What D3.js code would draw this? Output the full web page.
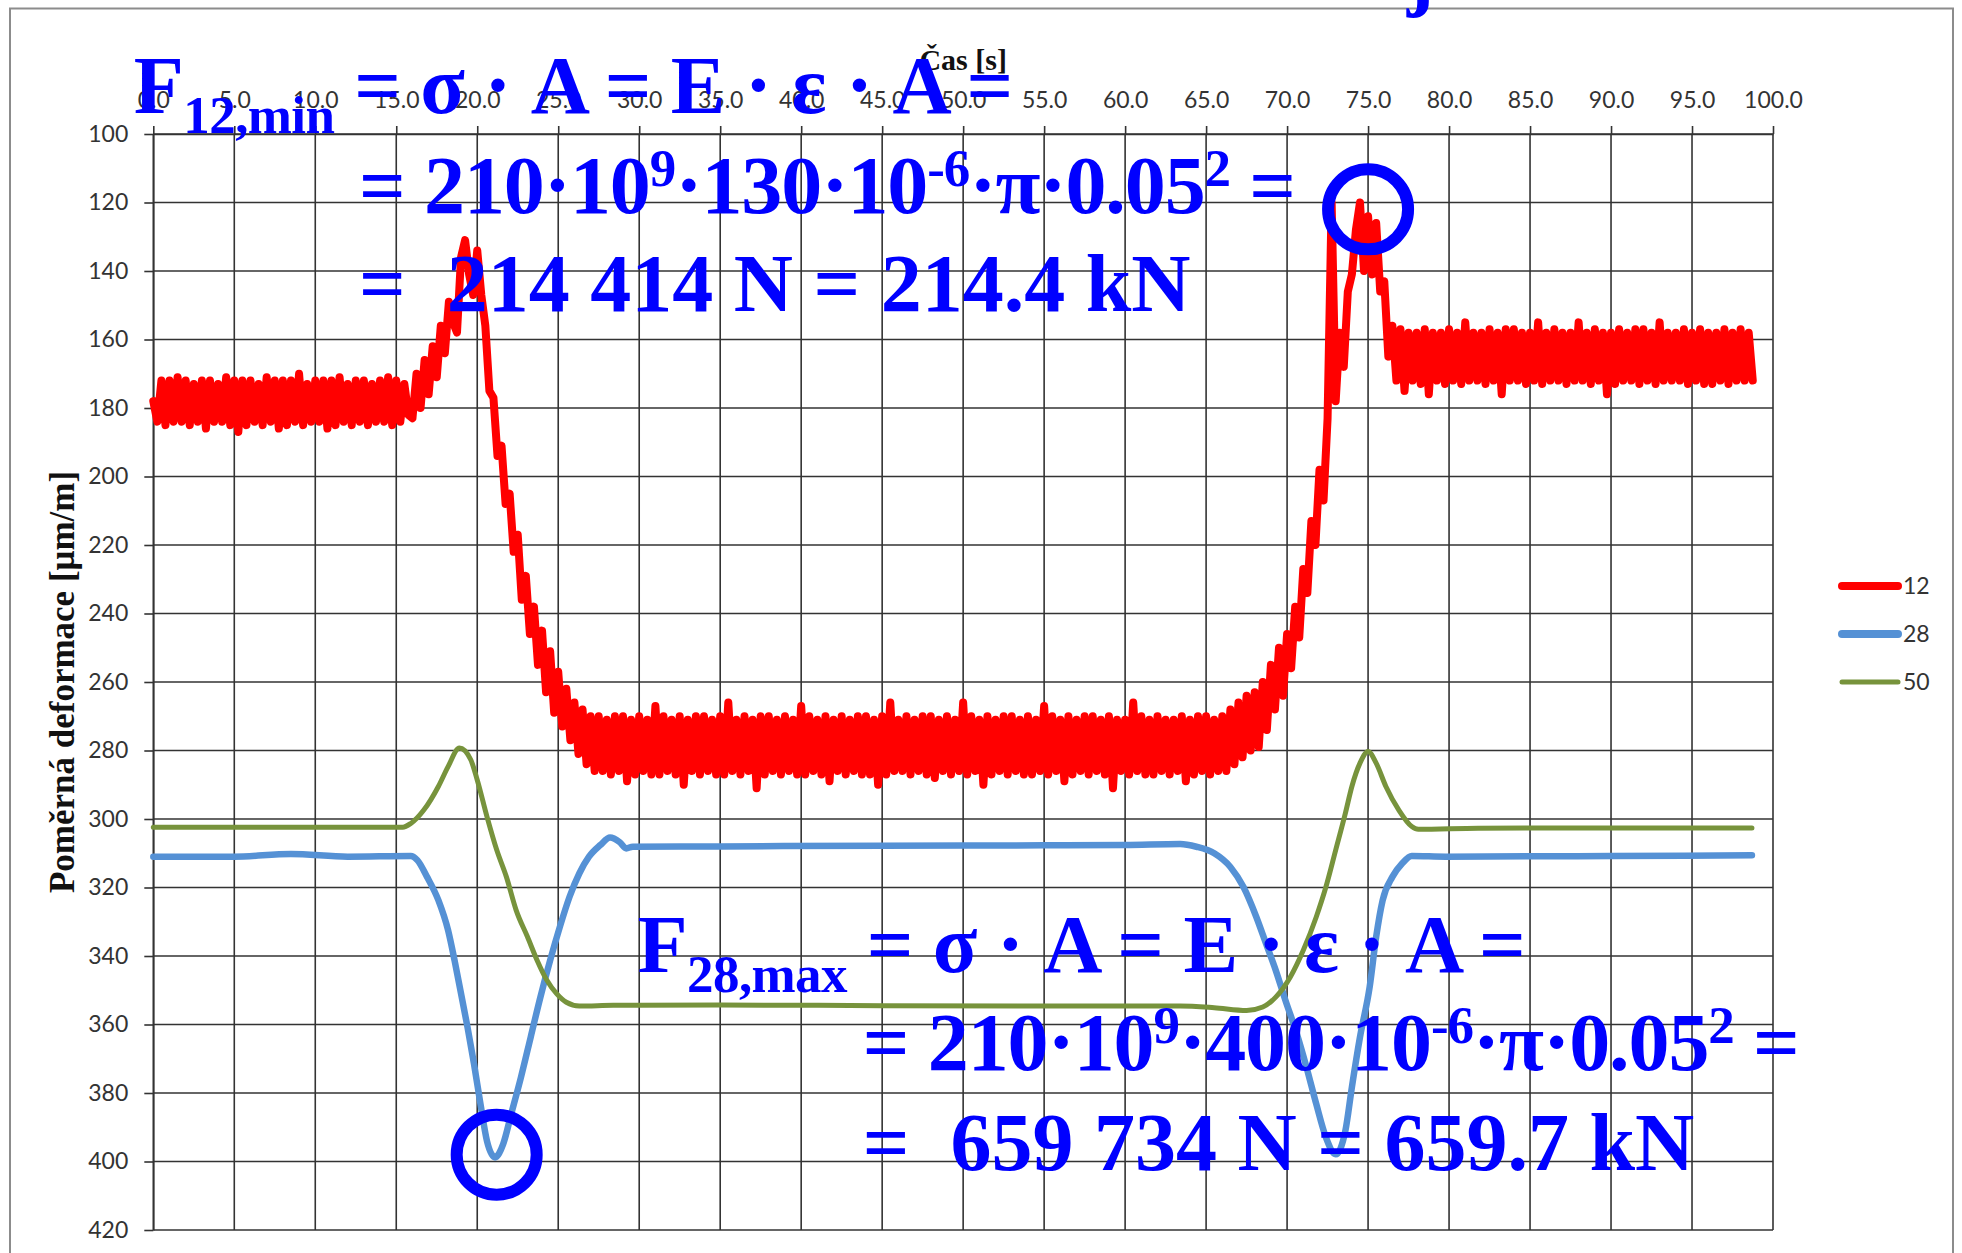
<!DOCTYPE html>
<html>
<head>
<meta charset="utf-8">
<script src="https://cdn.jsdelivr.net/npm/d3@7"></script>
<style>
  body { margin: 0; background: #fff; }
  svg { display: block; }
</style>
</head>
<body>
<script>
const W = 1962, H = 1253;

// axis ticks
const timeTicks = [0, 5, 10, 15, 20, 25, 30, 35, 40, 45, 50, 55, 60, 65, 70, 75, 80, 85, 90, 95, 100];
const strainTicks = [100, 120, 140, 160, 180, 200, 220, 240, 260, 280, 300, 320, 340, 360, 380, 400, 420];

const seriesNames = ['12', '28', '50'];

// series 12 - sampled every 0.25 s (one row = 2 s)
const redStep = 0.25;
const red12 = [
  178,184,172,185,172,184,171,184,
  172,185,173,184,172,186,172,184,
  173,184,171,185,172,187,172,185,
  172,184,173,185,171,184,172,186,
  172,185,172,184,170,185,173,184,
  172,184,172,186,172,185,171,184,
  173,185,172,184,172,185,173,184,
  172,184,171,185,172,184,173,182,
  183,170,180,166,176,162,171,156,
  164,149,155,158,136,131,141,147,
  134,147,156,175,177,194,191,208,
  205,222,217,236,229,246,238,255,
  245,263,251,269,257,273,262,277,
  266,281,268,284,270,286,270,286,
  271,287,270,286,270,289,271,287,
  270,286,271,287,267,287,270,286,
  271,287,270,290,271,286,270,287,
  270,286,271,287,270,287,266,286,
  271,287,270,286,271,291,270,287,
  270,286,271,287,270,286,271,287,
  267,287,270,286,271,287,270,289,
  271,286,270,287,271,286,270,287,
  270,287,271,290,270,287,266,286,
  271,286,270,287,271,286,270,287,
  270,288,271,286,270,287,271,286,
  266,287,270,286,271,290,270,287,
  271,286,270,287,270,286,271,287,
  270,287,271,286,267,287,270,286,
  271,289,270,287,271,286,270,287,
  270,286,271,287,270,291,271,286,
  271,287,266,286,270,287,271,287,
  270,286,271,287,271,286,270,289,
  271,287,270,286,270,287,271,286,
  270,286,268,284,266,282,264,280,
  263,279,260,274,255,268,250,264,
  246,256,238,247,227,234,213,220,
  198,207,183,120,178,158,168,146,
  141,128,120,140,124,141,126,146,
  143,165,156,172,157,175,158,172,
  158,173,157,176,158,172,158,173,
  157,172,158,173,155,172,158,172,
  158,173,157,172,158,176,157,172,
  157,172,158,173,158,172,155,173,
  158,172,157,172,158,173,158,172,
  155,172,158,173,157,172,158,176,
  158,173,157,172,158,172,157,173,
  157,172,158,173,155,172,158,172,
  158,172,157,173,158,172,157,173,
  158,173,158,172,157,173,158,172,
  157,172,158,172
];

// series 28
const blueT = [0, 5, 8.5, 12, 15.9, 16.3, 16.9, 17.6, 18.2, 18.6, 19.0, 19.4, 19.8, 20.2, 20.6, 21.1, 21.6, 22.1, 22.7, 23.3, 23.9, 24.5, 25.1, 25.7, 26.3, 26.9, 27.6, 28.2, 28.8, 29.2, 29.6, 35, 45, 55, 60, 63.4, 64.4, 65.5, 66.5, 67.3, 68.1, 68.7, 69.3, 69.9, 70.6, 71.2, 71.8, 72.4, 73.0, 73.6, 74.0, 74.5, 75.1, 75.5, 75.9, 76.5, 77.1, 77.7, 79.8, 90, 98.7];
const blue28 = [311, 311, 310.2, 311, 310.8, 312, 316.9, 323.7, 332.5, 341.3, 351, 360.8, 371.5, 383.2, 394, 398.8, 394.9, 386.1, 375.4, 363.7, 352, 341.3, 331.5, 322.7, 315.9, 311, 307.6, 305.4, 306.8, 308.6, 308.1, 308, 307.8, 307.7, 307.6, 307.3, 308.1, 310, 314, 319.8, 328.6, 336.4, 344.2, 353, 362.7, 372.5, 383.2, 393, 397.9, 391, 378.3, 363.7, 349, 334.4, 323.7, 316.9, 313, 310.8, 311, 310.8, 310.6];

// series 50
const greenT = [0, 10, 15.4, 15.9, 16.7, 17.6, 18.2, 18.9, 19.6, 20.0, 20.6, 21.2, 21.8, 22.4, 23.1, 23.7, 24.3, 24.9, 25.5, 26.3, 28.4, 35, 45, 55, 63.4, 65.5, 67.5, 68.5, 69.3, 70.2, 71.0, 71.8, 72.4, 73.0, 73.6, 74.0, 74.5, 75.0, 75.5, 76.1, 76.9, 77.7, 78.1, 81.8, 90, 98.7];
const green50 = [302.4, 302.4, 302.4, 301.3, 297.4, 290.5, 284.7, 279.3, 282.7, 288.6, 299.3, 309, 316.9, 326.6, 334.4, 341.3, 347.1, 351, 353.5, 354.6, 354.4, 354.3, 354.5, 354.6, 354.6, 355.1, 355.9, 354.9, 352, 346.1, 338.3, 328.6, 319.8, 309.1, 298.3, 290.5, 283.7, 280.3, 283.7, 290.5, 297.4, 302.2, 303, 302.7, 302.6, 302.6];

// hand-drawn annotations (anchored in data units)
const noteLines = [
  { t: -1.2, v: 94,    ls: -0.6, parts: [['F', ''], ['12,min', 'sub'], [' = σ · A = E · ε · A =', '']] },
  { t: 12.7, v: 123,   ls: -1.1, parts: [['= 210·10', ''], ['9', 'sup'], ['·130·10', ''], ['-6', 'sup'], ['·π·0.05', ''], ['2', 'sup'], [' =', '']] },
  { t: 12.7, v: 151.8, ls: 0,    parts: [['=\u00a0 214 414 N = 214.4 kN', '']] },
  { t: 29.9, v: 344.7, ls: -0.6, parts: [['F', ''], ['28,max', 'sub'], [' = σ · A = E · ε · A =', '']] },
  { t: 43.8, v: 373.3, ls: -1.1, parts: [['= 210·10', ''], ['9', 'sup'], ['·400·10', ''], ['-6', 'sup'], ['·π·0.05', ''], ['2', 'sup'], [' =', '']] },
  { t: 43.8, v: 402.5, ls: 0,    parts: [['=\u00a0 659 734 N = 659.7 kN', '']] },
  { t: 77.4, v: 61,    ls: 0,    parts: [['j', '']] }
];
const noteCircles = [ { t: 75.0, v: 122 }, { t: 21.2, v: 398 } ];

const colors = { '12': '#ff0000', '28': '#5591d5', '50': '#77933c' };
const widths = { '12': 8, '28': 6.5, '50': 5 };
const gridColor = '#333';
const sansFont = 'Lato, "Open Sans", sans-serif';
const serifFont = '"Liberation Serif", "Times New Roman", serif';

const x = d3.scaleLinear().domain([0, 100]).range([153.3, 1773]);
const y = d3.scaleLinear().domain([100, 420]).range([134, 1230]);

const svg = d3.select('body').append('svg')
  .attr('width', W)
  .attr('height', H);

svg.append('rect')
  .attr('x', 10).attr('y', 8.5)
  .attr('width', 1943).attr('height', H)
  .attr('fill', '#fff')
  .attr('stroke', '#8c8c8c')
  .attr('stroke-width', 2);

// grid
const grid = svg.append('g').attr('stroke', gridColor).attr('stroke-width', 1.6);
grid.selectAll('line.v').data(timeTicks).join('line')
  .attr('class', 'v')
  .attr('x1', d => x(d)).attr('x2', d => x(d))
  .attr('y1', y(100)).attr('y2', y(420));
grid.selectAll('line.h').data(strainTicks).join('line')
  .attr('class', 'h')
  .attr('x1', x(0)).attr('x2', x(100))
  .attr('y1', d => y(d)).attr('y2', d => y(d));

// axes
const axisX = d3.axisTop(x)
  .tickValues(timeTicks)
  .tickFormat(d3.format('.1f'))
  .tickSize(8)
  .tickSizeOuter(0)
  .tickPadding(18);
const axisY = d3.axisLeft(y)
  .tickValues(strainTicks)
  .tickSize(9)
  .tickSizeOuter(0)
  .tickPadding(16);

const gx = svg.append('g')
  .attr('class', 'axis axis-x')
  .attr('transform', `translate(0, ${y(100)})`)
  .call(axisX);
const gy = svg.append('g')
  .attr('class', 'axis axis-y')
  .attr('transform', `translate(${x(0)}, 0)`)
  .call(axisY);

[gx, gy].forEach(g => {
  g.select('.domain').attr('stroke', gridColor).attr('stroke-width', 1.6);
  g.selectAll('.tick line').attr('stroke', gridColor).attr('stroke-width', 1.6);
  g.selectAll('.tick text')
    .attr('fill', '#333')
    .style('font-family', sansFont)
    .style('font-size', '23px');
});

svg.append('text')
  .attr('x', (x(0) + x(100)) / 2)
  .attr('y', 70)
  .attr('text-anchor', 'middle')
  .style('font-family', serifFont)
  .style('font-weight', 'bold')
  .style('font-size', '30px')
  .attr('fill', '#111')
  .text('Čas [s]');

svg.append('text')
  .attr('transform', `translate(74, ${(y(100) + y(420)) / 2}) rotate(-90)`)
  .attr('text-anchor', 'middle')
  .style('font-family', serifFont)
  .style('font-weight', 'bold')
  .style('font-size', '35px')
  .attr('fill', '#111')
  .text('Poměrná deformace [μm/m]');

// series
const series = [
  { name: '12', pts: red12.map((v, i) => [i * redStep, v]), curve: d3.curveLinear },
  { name: '28', pts: blueT.map((t, i) => [t, blue28[i]]), curve: d3.curveMonotoneX },
  { name: '50', pts: greenT.map((t, i) => [t, green50[i]]), curve: d3.curveMonotoneX }
];

series.forEach(s => {
  const line = d3.line().x(d => x(d[0])).y(d => y(d[1])).curve(s.curve);
  svg.append('path')
    .datum(s.pts)
    .attr('d', line)
    .attr('fill', 'none')
    .attr('stroke', colors[s.name])
    .attr('stroke-width', widths[s.name])
    .attr('stroke-linejoin', 'round')
    .attr('stroke-linecap', 'round');
});

// legend
const legend = svg.append('g')
  .attr('transform', `translate(${x(100) + 69}, ${(y(100) + y(420)) / 2 - 96})`);
seriesNames.forEach((name, i) => {
  const row = legend.append('g').attr('transform', `translate(0, ${i * 48})`);
  row.append('line')
    .attr('x1', 0).attr('x2', 56)
    .attr('stroke', colors[name])
    .attr('stroke-width', name === '50' ? 5 : 8)
    .attr('stroke-linecap', 'round');
  row.append('text')
    .attr('x', 61)
    .attr('dy', '0.35em')
    .attr('fill', '#333')
    .style('font-family', sansFont)
    .style('font-size', '23px')
    .text(name);
});

// annotations
noteLines.forEach(line => {
  const txt = svg.append('text')
    .attr('x', x(line.t))
    .attr('y', y(line.v))
    .attr('fill', '#0000ff')
    .style('font-family', serifFont)
    .style('font-weight', 'bold')
    .style('font-size', '82px')
    .style('letter-spacing', line.ls + 'px')
    .style('white-space', 'pre');
  let shift = 0;
  line.parts.forEach(([s, kind]) => {
    const target = kind === 'sub' ? 20 : kind === 'sup' ? -27 : 0;
    txt.append('tspan')
      .attr('dy', target - shift)
      .style('font-size', kind ? '53px' : '82px')
      .text(s);
    shift = target;
  });
});

svg.selectAll('circle.note').data(noteCircles).join('circle')
  .attr('class', 'note')
  .attr('cx', d => x(d.t))
  .attr('cy', d => y(d.v))
  .attr('r', 40)
  .attr('fill', 'none')
  .attr('stroke', '#0000ff')
  .attr('stroke-width', 12);
</script>
</body>
</html>
